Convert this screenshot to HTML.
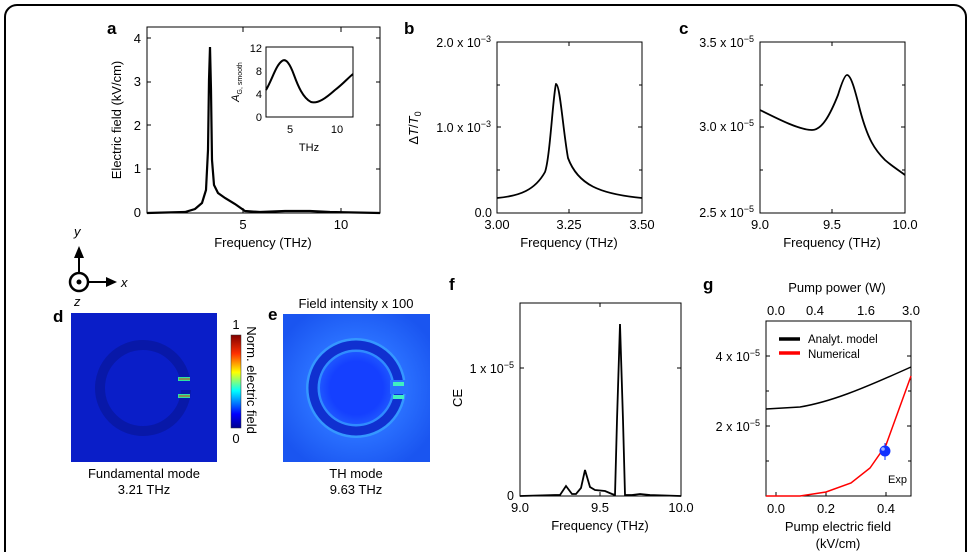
<!DOCTYPE html>
<html><head><meta charset="utf-8"><style>
body{margin:0;background:#fff;}
svg{display:block;font-family:"Liberation Sans",Arial,sans-serif;}
</style></head><body>
<svg width="971" height="552" viewBox="0 0 971 552">
<defs>
<linearGradient id="cb" x1="0" y1="1" x2="0" y2="0">
<stop offset="0" stop-color="#00008f"/><stop offset="0.15" stop-color="#0000ff"/><stop offset="0.4" stop-color="#00ffff"/><stop offset="0.6" stop-color="#ffff00"/><stop offset="0.8" stop-color="#ff3000"/><stop offset="1" stop-color="#800000"/>
</linearGradient>
<radialGradient id="eg" cx="0.5" cy="0.5" r="0.6"><stop offset="0.3" stop-color="#1540ff"/><stop offset="0.55" stop-color="#2a70ff"/><stop offset="1" stop-color="#1a55f0"/></radialGradient>
</defs>
<rect x="5" y="5" width="961" height="560" rx="12" fill="none" stroke="#000" stroke-width="2"/>
<g font-size="13" fill="#000">
<!-- Panel a -->
<text x="107" y="34" font-weight="bold" font-size="17">a</text>
<rect x="147" y="27" width="233" height="186" fill="none" stroke="#000" stroke-width="1"/>
<g stroke="#000">
<line x1="147" y1="213" x2="151" y2="213"/><line x1="147" y1="169" x2="151" y2="169"/><line x1="147" y1="125" x2="151" y2="125"/><line x1="147" y1="82" x2="151" y2="82"/><line x1="147" y1="38" x2="151" y2="38"/>
<line x1="376" y1="169" x2="380" y2="169"/><line x1="376" y1="125" x2="380" y2="125"/><line x1="376" y1="82" x2="380" y2="82"/><line x1="376" y1="38" x2="380" y2="38"/>
<line x1="243" y1="213" x2="243" y2="208"/><line x1="341" y1="213" x2="341" y2="208"/><line x1="243" y1="27" x2="243" y2="32"/><line x1="341" y1="27" x2="341" y2="32"/>
</g>
<g text-anchor="end"><text x="141" y="217">0</text><text x="141" y="173">1</text><text x="141" y="130">2</text><text x="141" y="86">3</text><text x="141" y="43">4</text></g>
<text x="243" y="229" text-anchor="middle">5</text><text x="341" y="229" text-anchor="middle">10</text>
<text x="263" y="247" text-anchor="middle">Frequency (THz)</text>
<text transform="translate(121,120) rotate(-90)" text-anchor="middle">Electric field (kV/cm)</text>
<path d="M147,213 L185,212 L195,209 L202,203 L206,190 L208,150 L209,80 L210,47 L211,90 L212,160 L214,185 L218,193 L225,198 L235,204 L245,211 L260,212 L285,211 L310,211 L330,212 L380,213" fill="none" stroke="#000" stroke-width="2.2"/>
<!-- inset -->
<rect x="266" y="47" width="87" height="70" fill="none" stroke="#000"/>
<g font-size="11" text-anchor="end"><text x="262" y="52">12</text><text x="262" y="75">8</text><text x="262" y="98">4</text><text x="262" y="121">0</text></g>
<g font-size="11" text-anchor="middle"><text x="290" y="133">5</text><text x="337" y="133">10</text><text x="309" y="151">THz</text></g>
<text transform="translate(239,82) rotate(-90)" text-anchor="middle" font-size="11"><tspan font-style="italic">A</tspan><tspan font-size="7" dy="3">G, smooth</tspan></text>
<path d="M266,90 C272,80 276,65 282,61 C286,58 290,64 294,75 C298,86 303,98 311,102 C318,104 326,98 335,90 C343,84 348,78 353,74" fill="none" stroke="#000" stroke-width="2"/>
<!-- Panel b -->
<text x="404" y="34" font-weight="bold" font-size="17">b</text>
<rect x="497" y="42" width="145" height="171" fill="none" stroke="#000"/>
<g stroke="#000"><line x1="497" y1="127" x2="501" y2="127"/><line x1="638" y1="127" x2="642" y2="127"/><line x1="497" y1="170" x2="500" y2="170"/><line x1="497" y1="85" x2="500" y2="85"/><line x1="639" y1="170" x2="642" y2="170"/><line x1="639" y1="85" x2="642" y2="85"/><line x1="569" y1="213" x2="569" y2="209"/><line x1="569" y1="42" x2="569" y2="46"/></g>
<g text-anchor="end" font-size="12.5"><text x="491" y="47">2.0 x 10<tspan font-size="9" dy="-5">−3</tspan></text><text x="491" y="132">1.0 x 10<tspan font-size="9" dy="-5">−3</tspan></text><text x="492" y="217">0.0</text></g>
<g text-anchor="middle"><text x="497" y="229">3.00</text><text x="569" y="229">3.25</text><text x="642" y="229">3.50</text><text x="569" y="247">Frequency (THz)</text></g>
<text transform="translate(418,128) rotate(-90)" text-anchor="middle">Δ<tspan font-style="italic">T</tspan>/<tspan font-style="italic">T</tspan><tspan font-size="9" dy="3">0</tspan></text>
<path d="M497,198 C520,196 535,190 545,172 C550,158 553,95 556,84 C560,84 563,130 568,158 C578,185 600,194 642,198" fill="none" stroke="#000" stroke-width="1.8"/>
<!-- Panel c -->
<text x="679" y="34" font-weight="bold" font-size="17">c</text>
<rect x="760" y="42" width="145" height="171" fill="none" stroke="#000"/>
<g stroke="#000"><line x1="760" y1="127" x2="764" y2="127"/><line x1="901" y1="127" x2="905" y2="127"/><line x1="760" y1="85" x2="763" y2="85"/><line x1="760" y1="170" x2="763" y2="170"/><line x1="902" y1="85" x2="905" y2="85"/><line x1="902" y1="170" x2="905" y2="170"/><line x1="832" y1="213" x2="832" y2="209"/><line x1="832" y1="42" x2="832" y2="46"/></g>
<g text-anchor="end" font-size="12.5"><text x="754" y="47">3.5 x 10<tspan font-size="9" dy="-5">−5</tspan></text><text x="754" y="131">3.0 x 10<tspan font-size="9" dy="-5">−5</tspan></text><text x="754" y="217">2.5 x 10<tspan font-size="9" dy="-5">−5</tspan></text></g>
<g text-anchor="middle"><text x="760" y="229">9.0</text><text x="832" y="229">9.5</text><text x="905" y="229">10.0</text><text x="832" y="247">Frequency (THz)</text></g>
<path d="M760,110 C780,120 800,130 812,130 C822,130 830,115 838,95 C842,82 845,75 847,75 C851,75 855,90 860,110 C868,140 875,150 885,160 C893,167 900,171 905,175" fill="none" stroke="#000" stroke-width="1.8"/>
<!-- axes icon -->
<line x1="79" y1="280" x2="79" y2="256" stroke="#000" stroke-width="2"/><polygon points="74,258 84,258 79,246" fill="#000"/>
<line x1="79" y1="282" x2="108" y2="282" stroke="#000" stroke-width="2"/><polygon points="106,277 106,287 117,282" fill="#000"/>
<circle cx="79" cy="282" r="9" fill="#fff" stroke="#000" stroke-width="2.5"/><circle cx="79" cy="282" r="2.5" fill="#000"/>
<text x="74" y="236" font-style="italic">y</text><text x="121" y="287" font-style="italic">x</text><text x="74" y="306" font-style="italic">z</text>
<!-- d -->
<text x="53" y="322" font-weight="bold" font-size="17">d</text>
<rect x="71" y="313" width="146" height="149" fill="#0a1ec8"/>
<circle cx="143" cy="388" r="43" fill="none" stroke="#0818a8" stroke-width="10"/>
<rect x="176" y="378" width="16" height="12" fill="#0a1ec8"/>
<rect x="178" y="377" width="12" height="4" fill="#30e0a0"/><rect x="178" y="394" width="12" height="4" fill="#30e0a0"/>
<line x1="179" y1="379" x2="190" y2="379" stroke="#e04000" stroke-width="1"/><line x1="179" y1="396" x2="190" y2="396" stroke="#e04000" stroke-width="1"/>
<rect x="231" y="335" width="10" height="93" fill="url(#cb)" stroke="#333" stroke-width="0.5"/>
<text x="236" y="329" text-anchor="middle">1</text><text x="236" y="443" text-anchor="middle">0</text>
<text transform="translate(247,380) rotate(90)" text-anchor="middle">Norm. electric field</text>
<text x="144" y="478" text-anchor="middle">Fundamental mode</text><text x="144" y="494" text-anchor="middle">3.21 THz</text>
<!-- e -->
<text x="268" y="320" font-weight="bold" font-size="17">e</text>
<text x="356" y="308" text-anchor="middle">Field intensity x 100</text>
<rect x="283" y="314" width="147" height="148" fill="url(#eg)"/>
<circle cx="356" cy="388" r="43" fill="none" stroke="#40c0ff" stroke-width="14" opacity="0.5"/>
<circle cx="356" cy="388" r="43" fill="none" stroke="#1030d0" stroke-width="9"/>
<rect x="390" y="380" width="18" height="14" fill="#2a70ff"/>
<rect x="393" y="382" width="11" height="4" fill="#40f0c0"/><rect x="393" y="395" width="11" height="4" fill="#40f0c0"/>
<text x="356" y="478" text-anchor="middle">TH mode</text><text x="356" y="494" text-anchor="middle">9.63 THz</text>
<!-- Panel f -->
<text x="449" y="290" font-weight="bold" font-size="17">f</text>
<rect x="520" y="303" width="161" height="193" fill="none" stroke="#000"/>
<g stroke="#000"><line x1="520" y1="368" x2="524" y2="368"/><line x1="677" y1="368" x2="681" y2="368"/><line x1="600" y1="496" x2="600" y2="492"/><line x1="600" y1="303" x2="600" y2="307"/></g>
<g text-anchor="end" font-size="12.5"><text x="514" y="373">1 x 10<tspan font-size="9" dy="-5">−5</tspan></text><text x="514" y="500">0</text></g>
<g text-anchor="middle"><text x="520" y="512">9.0</text><text x="600" y="512">9.5</text><text x="681" y="512">10.0</text><text x="600" y="530">Frequency (THz)</text></g>
<text transform="translate(462,398) rotate(-90)" text-anchor="middle">CE</text>
<path d="M520,496 L555,495 L560,495 L566,486 L572,494 L576,494 L581,488 L585,470 L590,487 L595,490 L605,491 L612,494 L615,495 L617,420 L620,324 L623,420 L625,495 L632,495 L640,494 L650,495 L681,496" fill="none" stroke="#000" stroke-width="1.8"/>
<!-- Panel g -->
<text x="703" y="290" font-weight="bold" font-size="17">g</text>
<text x="837" y="292" text-anchor="middle">Pump power (W)</text>
<g text-anchor="middle"><text x="776" y="315">0.0</text><text x="815" y="315">0.4</text><text x="866" y="315">1.6</text><text x="911" y="315">3.0</text></g>
<rect x="766" y="321" width="145" height="175" fill="none" stroke="#000"/>
<g stroke="#000"><line x1="766" y1="356" x2="770" y2="356"/><line x1="766" y1="391" x2="769" y2="391"/><line x1="766" y1="426" x2="770" y2="426"/><line x1="766" y1="461" x2="769" y2="461"/>
<line x1="907" y1="356" x2="911" y2="356"/><line x1="908" y1="391" x2="911" y2="391"/><line x1="907" y1="426" x2="911" y2="426"/><line x1="908" y1="461" x2="911" y2="461"/>
<line x1="776" y1="496" x2="776" y2="492"/><line x1="826" y1="496" x2="826" y2="492"/><line x1="886" y1="496" x2="886" y2="492"/></g>
<g text-anchor="end" font-size="12.5"><text x="760" y="361">4 x 10<tspan font-size="9" dy="-5">−5</tspan></text><text x="760" y="431">2 x 10<tspan font-size="9" dy="-5">−5</tspan></text></g>
<g text-anchor="middle"><text x="776" y="513">0.0</text><text x="826" y="513">0.2</text><text x="886" y="513">0.4</text><text x="838" y="531">Pump electric field</text><text x="838" y="548">(kV/cm)</text></g>
<line x1="779" y1="339" x2="800" y2="339" stroke="#000" stroke-width="3.5"/><text x="808" y="343" font-size="11.5">Analyt. model</text>
<line x1="779" y1="353" x2="800" y2="353" stroke="#f00" stroke-width="3.5"/><text x="808" y="358" font-size="11.5">Numerical</text>
<path d="M766,409 L800,407 C830,402 860,390 911,367" fill="none" stroke="#000" stroke-width="1.5"/>
<path d="M766,496 L800,496 L826,492 L851,483 L870,468 L886,445 L911,376" fill="none" stroke="#f00" stroke-width="1.5"/>
<line x1="885" y1="443" x2="885" y2="460" stroke="#0030ff" stroke-width="1"/>
<circle cx="885" cy="451" r="5.5" fill="#1030ff"/><circle cx="883" cy="449" r="1.8" fill="#a0b0ff"/>
<text x="888" y="483" font-size="11">Exp</text>
</g>
</svg>
</body></html>
